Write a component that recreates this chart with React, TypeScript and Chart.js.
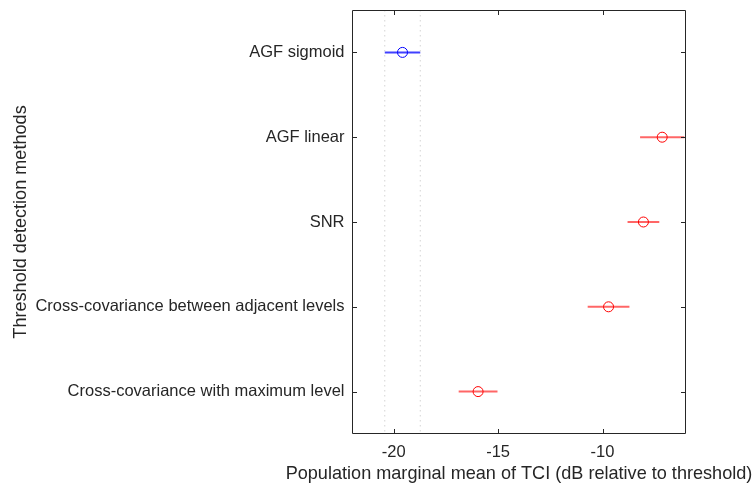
import React, { useEffect, useRef } from "react";
import { Chart, registerables } from "chart.js";

Chart.register(...registerables);

const categories = [
  "AGF sigmoid",
  "AGF linear",
  "SNR",
  "Cross-covariance between adjacent levels",
  "Cross-covariance with maximum level",
];
const means = [-19.58, -7.14, -8.04, -9.71, -15.96];
const halfWidths = [0.85, 1.06, 0.76, 1.0, 0.93];
const selected = [true, false, false, false, false];
const xTicks = [-20, -15, -10];
const refLines = [-20.43, -18.73];

const xTitle = "Population marginal mean of TCI (dB relative to threshold)";
const yTitle = "Threshold detection methods";

const FONT = "'Liberation Sans', Arial, sans-serif";
const TEXT = "#262626";

export default function App() {
  const ref = useRef<HTMLCanvasElement | null>(null);
  useEffect(() => {
    if (!ref.current) return;
    const datasets: any[] = [];
    refLines.forEach((v) => {
      datasets.push({
        type: "line",
        data: [
          { x: v, y: 0.5 },
          { x: v, y: 5.5 },
        ],
        borderColor: "#d4d4d4",
        borderWidth: 1,
        borderDash: [1.5, 3.5],
        pointRadius: 0,
        showLine: true,
      });
    });
    categories.forEach((c, i) => {
      const col = selected[i] ? "rgba(0,0,255,0.75)" : "rgba(255,0,0,0.6)";
      datasets.push({
        type: "line",
        data: [
          { x: means[i] - halfWidths[i], y: i + 1 },
          { x: means[i] + halfWidths[i], y: i + 1 },
        ],
        borderColor: col,
        borderWidth: 2,
        pointRadius: 0,
        showLine: true,
      });
    });
    datasets.push({
      type: "scatter",
      data: means.map((m, i) => ({ x: m, y: i + 1 })),
      pointStyle: "circle",
      pointRadius: 5,
      pointBorderWidth: 1,
      pointBackgroundColor: "rgba(0,0,0,0)",
      pointBorderColor: selected.map((s) => (s ? "#0000ff" : "#ff0000")),
    });

    const frame = {
      id: "frame",
      afterDraw(chart: any) {
        const { ctx, chartArea: a, scales } = chart;
        const xs = scales.x;
        const ys = scales.y;
        ctx.save();
        ctx.strokeStyle = TEXT;
        ctx.lineWidth = 1;
        ctx.beginPath();
        ctx.rect(a.left + 0.5, a.top + 0.5, a.right - a.left - 1, a.bottom - a.top - 1);
        ctx.stroke();
        const tl = 5;
        ctx.beginPath();
        xTicks.forEach((v) => {
          const px = Math.round(xs.getPixelForValue(v)) + 0.5;
          ctx.moveTo(px, a.bottom);
          ctx.lineTo(px, a.bottom - tl);
          ctx.moveTo(px, a.top);
          ctx.lineTo(px, a.top + tl);
        });
        categories.forEach((_, i) => {
          const py = Math.round(ys.getPixelForValue(i + 1)) + 0.5;
          ctx.moveTo(a.left, py);
          ctx.lineTo(a.left + tl, py);
          ctx.moveTo(a.right, py);
          ctx.lineTo(a.right - tl, py);
        });
        ctx.stroke();
        // axis titles
        ctx.fillStyle = TEXT;
        ctx.textAlign = "center";
        ctx.textBaseline = "middle";
        ctx.font = `18.1px ${FONT}`;
        ctx.fillText(xTitle, (a.left + a.right) / 2, 474);
        ctx.translate(21, (a.top + a.bottom) / 2);
        ctx.rotate(-Math.PI / 2);
        ctx.fillText(yTitle, 0, 0);
        ctx.restore();
      },
    };

    const chart = new Chart(ref.current, {
      type: "scatter",
      data: { datasets },
      options: {
        animation: false,
        responsive: false,
        maintainAspectRatio: false,
        layout: { padding: { top: 10, right: 69, left: 0, bottom: 0 } },
        plugins: { legend: { display: false }, tooltip: { enabled: false } },
        scales: {
          x: {
            type: "linear",
            min: -22,
            max: -6,
            afterBuildTicks: (s: any) => {
              s.ticks = xTicks.map((v) => ({ value: v }));
            },
            afterFit: (s: any) => {
              s.height = 54;
              s.paddingLeft = 0;
              s.paddingRight = 0;
            },
            grid: { display: false, drawTicks: false },
            border: { display: false },
            ticks: {
              color: TEXT,
              font: { family: FONT, size: 16.5 },
              padding: 9,
              maxRotation: 0,
            },
          },
          y: {
            type: "linear",
            min: 0.5,
            max: 5.5,
            reverse: true,
            afterBuildTicks: (s: any) => {
              s.ticks = categories.map((_, i) => ({ value: i + 1 }));
            },
            afterFit: (s: any) => {
              s.width = 352;
              s.paddingTop = 0;
              s.paddingBottom = 0;
            },
            grid: { display: false, drawTicks: false },
            border: { display: false },
            ticks: {
              color: TEXT,
              font: { family: FONT, size: 16.5 },
              padding: 7.5,
              callback: (v: any) => categories[Math.round(Number(v)) - 1] ?? "",
            },
          },
        },
      },
      plugins: [frame],
    } as any);
    return () => chart.destroy();
  }, []);
  return (
    <div style={{ position: "fixed", left: 0, top: 0, width: 755, height: 488, background: "#fff" }}>
      <canvas ref={ref} width={755} height={488} style={{ width: 755, height: 488 }} />
    </div>
  );
}
